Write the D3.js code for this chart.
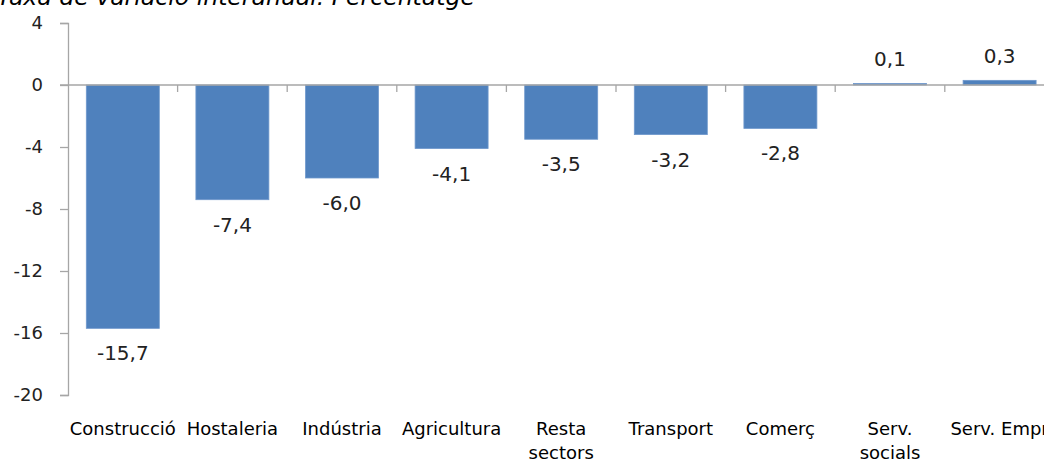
<!DOCTYPE html>
<html>
<head>
<meta charset="utf-8">
<script src="https://cdn.jsdelivr.net/npm/d3@7"></script>
<style>
  html, body { margin: 0; padding: 0; background: #fff; overflow: hidden; }
  svg { display: block; font-family: "DejaVu Sans", sans-serif; }
</style>
</head>
<body>
<svg id="chart" width="1044" height="459"></svg>
<script>
const titleText = "Taxa de variació interanual. Percentatge";
const categories = ["Construcció", "Hostaleria", "Indústria", "Agricultura", "Resta sectors", "Transport", "Comerç", "Serv. socials", "Serv. Empr"];
const categoryLines = [["Construcció"], ["Hostaleria"], ["Indústria"], ["Agricultura"], ["Resta", "sectors"], ["Transport"], ["Comerç"], ["Serv.", "socials"], ["Serv. Empr"]];
const values = [-15.7, -7.4, -6.0, -4.1, -3.5, -3.2, -2.8, 0.1, 0.3];
const yTicks = [4, 0, -4, -8, -12, -16, -20];

const svg = d3.select("#chart");
const plotLeft = 68, plotTop = 23, plotBottom = 395;
const step = 109.6;
const plotRight = plotLeft + step * categories.length;

const x = d3.scaleBand().domain(categories).range([plotLeft, plotRight]).paddingInner(0.334).paddingOuter(0.167);
const y = d3.scaleLinear().domain([-20, 4]).range([plotBottom, plotTop]);
const axisColor = "#A6A6A6";
const fmt = v => d3.format(".1f")(v).replace(".", ",").replace("−", "-");

// title
svg.append("text")
  .attr("x", -3).attr("y", 5)
  .attr("font-size", 23.5).attr("font-style", "italic").attr("fill", "#000")
  .attr("textLength", 478).attr("lengthAdjust", "spacingAndGlyphs")
  .text(titleText);

// y axis
const yAxis = d3.axisLeft(y).tickValues(yTicks).tickSize(8).tickPadding(17)
  .tickFormat(d => String(d));
const gy = svg.append("g").attr("transform", `translate(${plotLeft},0)`).call(yAxis);
gy.select(".domain").attr("stroke", axisColor).attr("stroke-width", 1.3);
gy.selectAll(".tick line").attr("stroke", axisColor).attr("stroke-width", 1.3);
gy.selectAll(".tick text").attr("font-size", 18).attr("fill", "#222").attr("font-family", "DejaVu Sans, sans-serif");

// bars
svg.append("g").selectAll("rect").data(values).join("rect")
  .attr("x", (d, i) => x(categories[i]))
  .attr("width", x.bandwidth())
  .attr("y", d => y(Math.max(0, d)))
  .attr("height", d => Math.abs(y(d) - y(0)))
  .attr("fill", "#4F81BD")
  .attr("stroke", "#6F98CC").attr("stroke-width", 0.8);

// zero axis line with category ticks
svg.append("line")
  .attr("x1", plotLeft - 8).attr("x2", 1044)
  .attr("y1", y(0)).attr("y2", y(0))
  .attr("stroke", axisColor).attr("stroke-width", 1.3);
const bounds = d3.range(1, categories.length + 1).map(i => plotLeft + step * i);
svg.append("g").selectAll("line").data(bounds).join("line")
  .attr("x1", d => d).attr("x2", d => d)
  .attr("y1", y(0)).attr("y2", y(0) + 7)
  .attr("stroke", axisColor).attr("stroke-width", 1.3);

// value labels
svg.append("g").selectAll("text").data(values).join("text")
  .attr("x", (d, i) => x(categories[i]) + x.bandwidth() / 2)
  .attr("y", d => d < 0 ? y(d) + 32 : y(d) - 17)
  .attr("text-anchor", "middle")
  .attr("font-size", 20).attr("fill", "#222")
  .text(d => fmt(d));

// category labels
const cl = svg.append("g").selectAll("text").data(categories).join("text")
  .attr("text-anchor", "middle")
  .attr("font-size", 18).attr("fill", "#000")
  .attr("transform", d => `translate(${x(d) + x.bandwidth() / 2},435)`);
cl.each(function(d, i) {
  const t = d3.select(this);
  categoryLines[i].forEach((line, j) => {
    t.append("tspan").attr("x", 0).attr("y", j * 24).text(line);
  });
});
</script>
</body>
</html>
